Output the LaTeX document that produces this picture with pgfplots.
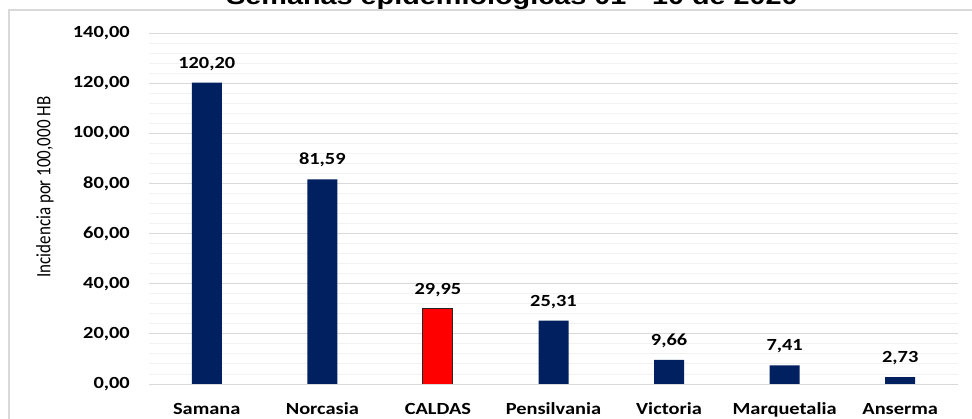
\documentclass[border=0pt]{standalone}
\usepackage{pgfplots}
\pgfplotsset{compat=1.18}
\usepackage{graphicx}
\usepackage{fontspec}
\setmainfont{Carlito}[FakeStretch=1.2]
\newfontfamily\plainfont{Carlito}
\newfontfamily\titlefont{Liberation Sans}[FakeStretch=1.2]
\definecolor{navybar}{HTML}{002060}
\definecolor{redbar}{HTML}{FF0000}
\definecolor{gridmaj}{HTML}{D9D9D9}
\definecolor{gridmin}{HTML}{F2F2F2}
\begin{document}
\begin{tikzpicture}
\useasboundingbox (0,0) rectangle (972bp,419bp);
\draw[color=gridmaj, line width=1.5bp] (9bp,-20bp) rectangle (990bp,409bp);
\node[anchor=base, inner sep=0pt, font=\titlefont\bfseries\fontsize{24bp}{28bp}\selectfont] at (512bp,414bp) {Semanas epidemiológicas 01 - 10 de 2020};
\begin{axis}[
  at={(149bp,35bp)}, anchor=south west,
  scale only axis, width=809bp, height=351bp,
  xmin=-0.5, xmax=6.5, ymin=0, ymax=140,
  ybar, bar width=30bp, bar shift=0pt,
  xtick={0,...,6},
  xticklabels={Samana,Norcasia,CALDAS,Pensilvania,Victoria,Marquetalia,Anserma},
  ytick={0,20,...,140},
  minor y tick num=4,
  ymajorgrids, yminorgrids,
  major grid style={color=gridmaj, line width=0.9bp},
  minor grid style={color=gridmin, line width=0.9bp},
  axis line style={draw=none},
  tick style={draw=none},
  scaled y ticks=false,
  /pgf/number format/assume math mode=true,
  yticklabel style={font=\bfseries\fontsize{17bp}{20bp}\selectfont, anchor=east, inner sep=0pt, xshift=-19bp,
    /pgf/number format/.cd, fixed, fixed zerofill, precision=2, use comma},
  xticklabel style={font=\bfseries\fontsize{17bp}{20bp}\selectfont, anchor=base, inner sep=0pt, yshift=-26bp},
  ylabel={\plainfont\fontsize{17bp}{20bp}\selectfont\scalebox{1}[1.2]{Incidencia por 100,000 HB}},
  ylabel style={at={(axis description cs:-0.1286,0.561)}, anchor=center, inner sep=0pt},
  nodes near coords={\pgfmathprintnumber[fixed,fixed zerofill,precision=2,use comma,assume math mode=true]{\pgfplotspointmeta}},
  nodes near coords style={font=\bfseries\fontsize{17bp}{20bp}\selectfont, anchor=base, inner sep=0pt, yshift=14.5bp, color=black},
  axis on top=false,
]
\addplot[fill=navybar, draw=none] coordinates {(0,120.20) (1,81.59) (3,25.31) (4,9.66) (5,7.41) (6,2.73)};
\addplot[fill=redbar, draw=black!85, line width=0.9bp] coordinates {(2,29.95)};
\end{axis}
\end{tikzpicture}
\end{document}
